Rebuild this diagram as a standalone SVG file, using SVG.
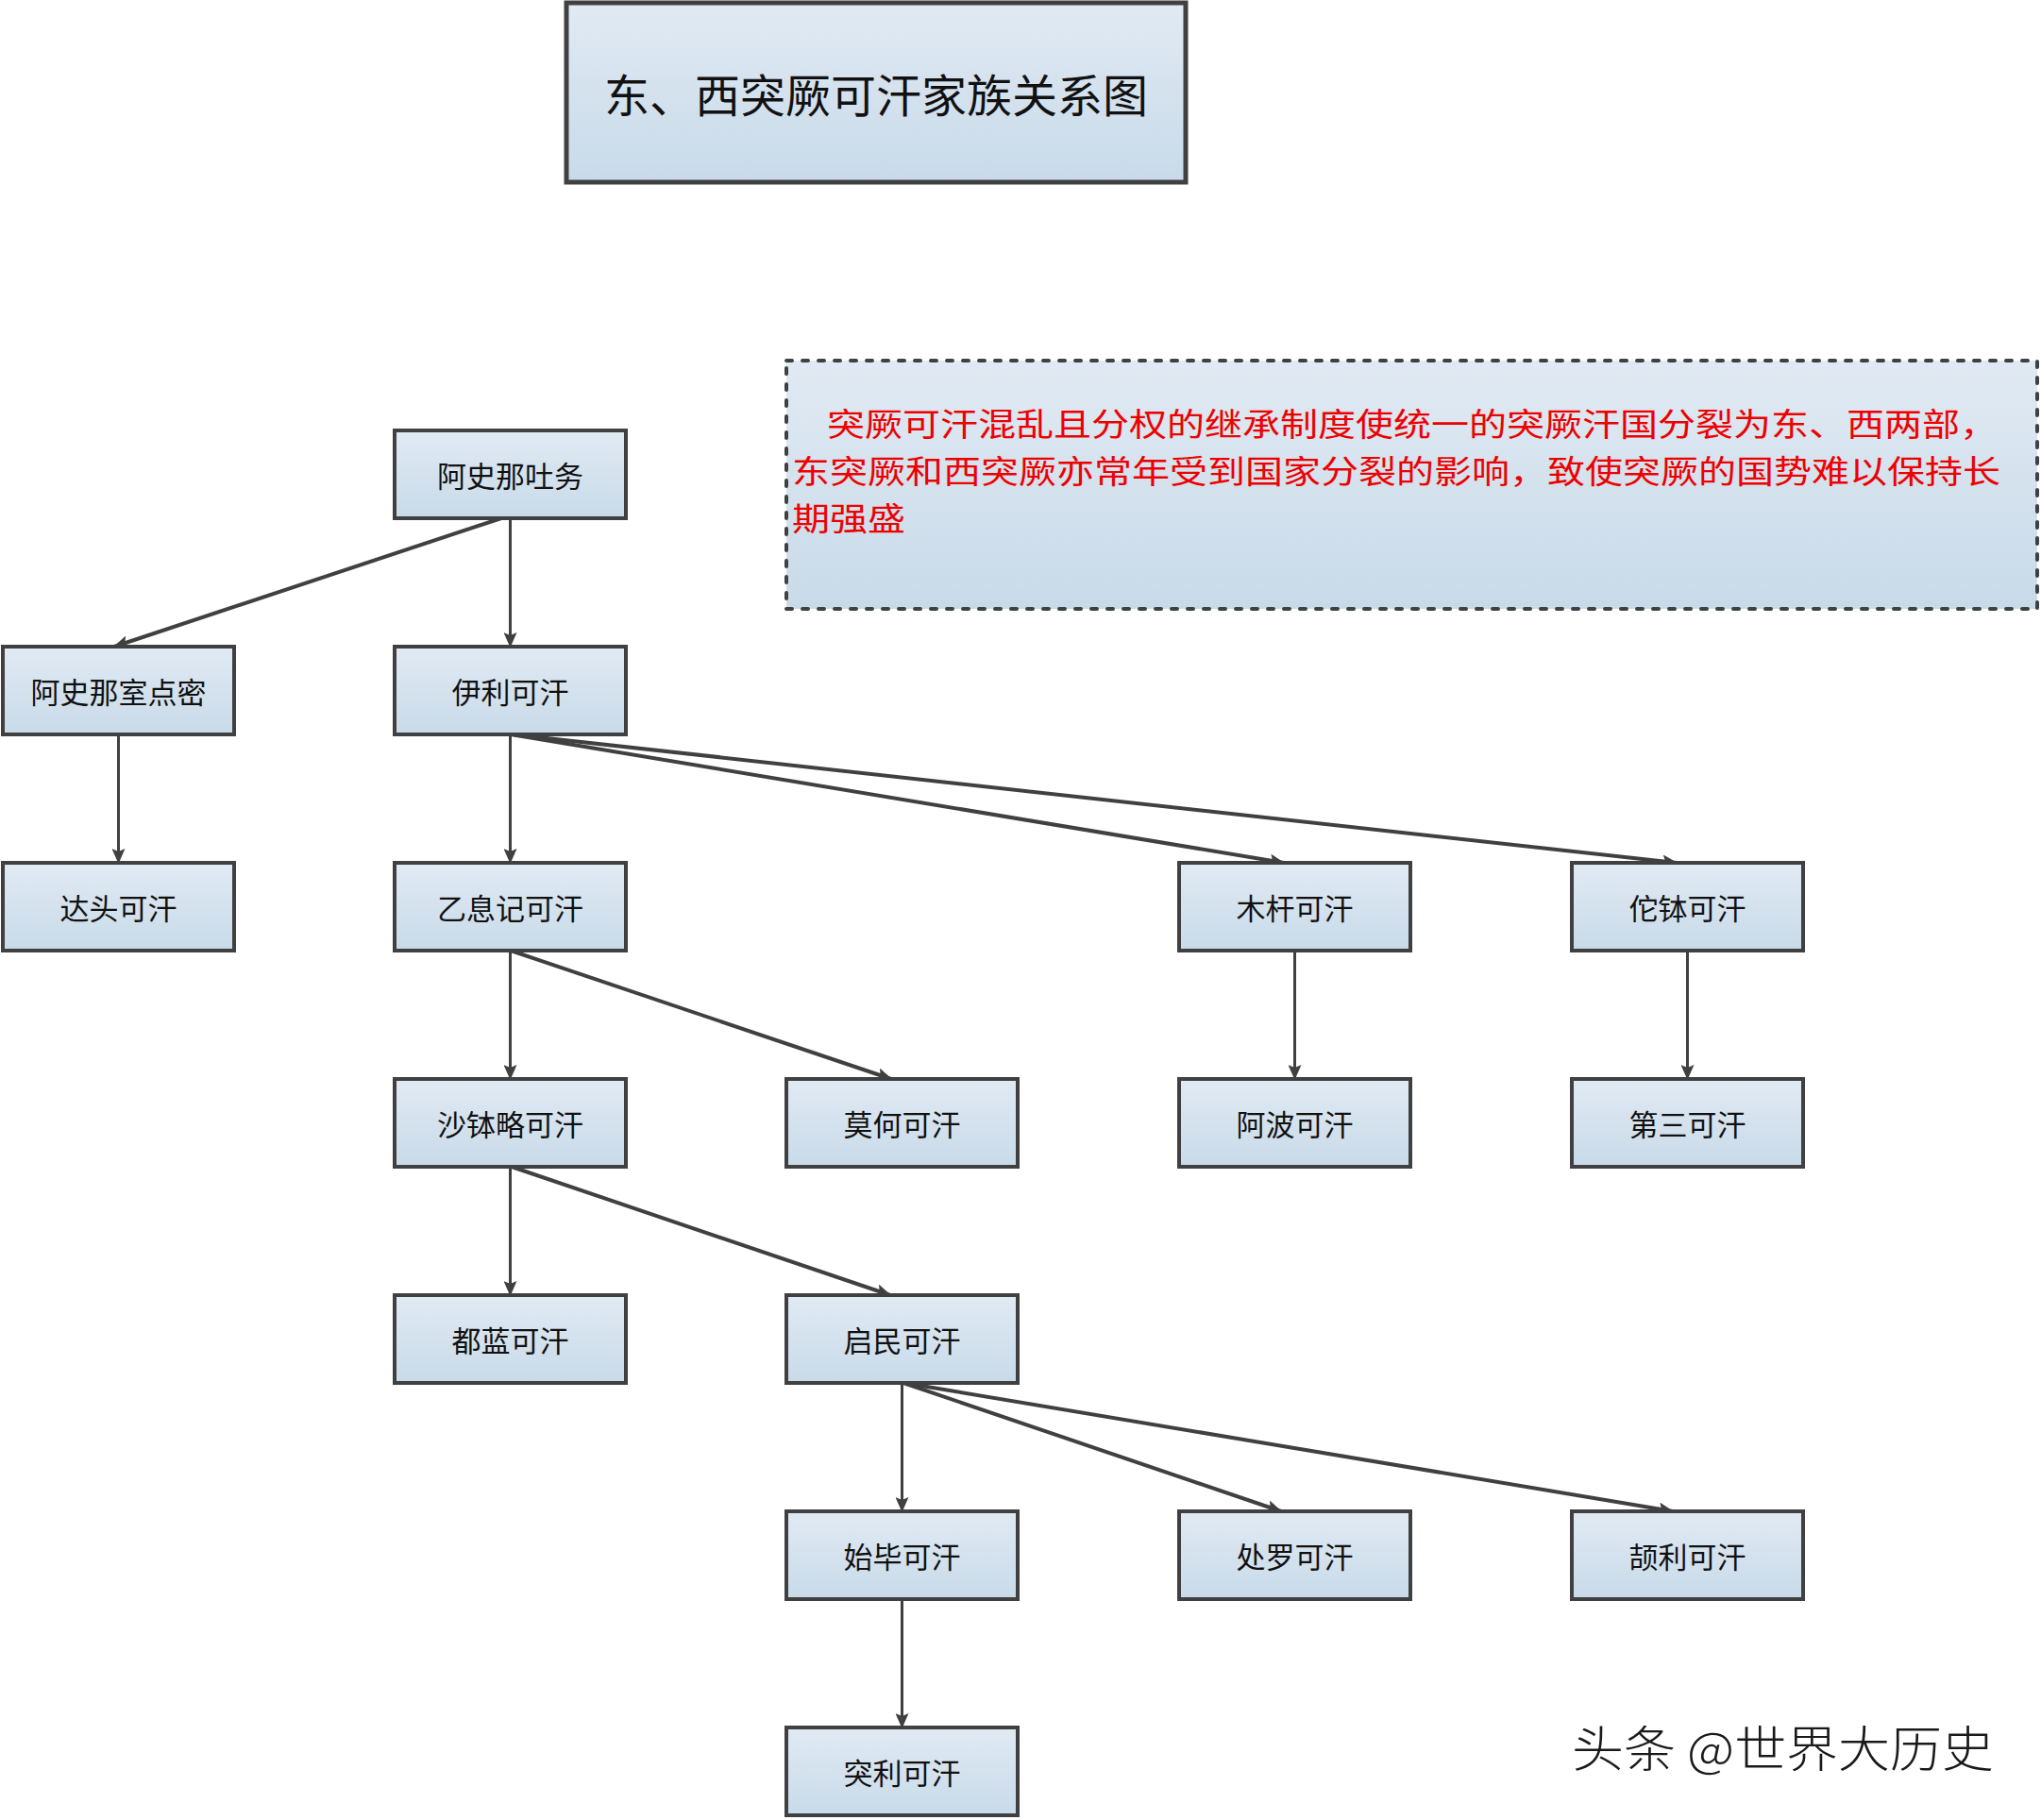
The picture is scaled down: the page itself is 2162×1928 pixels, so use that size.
<svg xmlns="http://www.w3.org/2000/svg" width="2162" height="1928" viewBox="0 0 2162 1928">
<defs>
<linearGradient id="bg" x1="0" y1="0" x2="0" y2="1">
<stop offset="0" stop-color="#e1eaf3"/>
<stop offset="1" stop-color="#c8dae9"/>
</linearGradient>
<marker id="arr" markerUnits="userSpaceOnUse" markerWidth="16" markerHeight="14" viewBox="0 0 16 14" refX="15" refY="7" orient="auto">
<path d="M0,0 L16,7 L0,14 L3,7 z" fill="#404040"/>
</marker>
<style>
.box{fill:url(#bg);stroke:#404040;stroke-width:4;}
.lbl{font-family:"Noto Sans CJK SC","Noto Sans CJK TC",sans-serif;font-size:31px;fill:#111;text-anchor:middle;dominant-baseline:central;}
.v{stroke:#404040;stroke-width:3;fill:none;marker-end:url(#arr);}
.d{stroke:#404040;stroke-width:4;fill:none;marker-end:url(#arr);}
.note{font-family:"Noto Sans CJK SC","Noto Sans CJK TC",sans-serif;font-size:34px;fill:#ee0000;}
</style>
</defs>
<rect width="2162" height="1928" fill="#ffffff"/>

<g id="title">
<rect x="600" y="3" width="656" height="190" fill="url(#bg)" stroke="#404040" stroke-width="5"/>
<text x="928" y="98" style="font-family:'Noto Sans CJK SC',sans-serif;font-size:48px;fill:#111;text-anchor:middle;dominant-baseline:central;">东、西突厥可汗家族关系图</text>
</g>

<g id="note">
<rect x="833" y="382" width="1325" height="263" fill="url(#bg)" stroke="#404040" stroke-width="4" stroke-dasharray="6 11" stroke-linecap="round"/>
<text class="note" x="876" y="462" textLength="1240" lengthAdjust="spacingAndGlyphs">突厥可汗混乱且分权的继承制度使统一的突厥汗国分裂为东、西两部，</text>
<text class="note" x="839" y="512" textLength="1280" lengthAdjust="spacingAndGlyphs">东突厥和西突厥亦常年受到国家分裂的影响，致使突厥的国势难以保持长</text>
<text class="note" x="839" y="562" textLength="120" lengthAdjust="spacingAndGlyphs">期强盛</text>
</g>

<g id="connectors">
<line class="d" x1="531" y1="549" x2="121" y2="685"/>
<line class="v" x1="540.5" y1="549" x2="540.5" y2="685"/>
<line class="v" x1="125.5" y1="778" x2="125.5" y2="914"/>
<line class="v" x1="540.5" y1="778" x2="540.5" y2="914"/>
<line class="d" x1="541" y1="778" x2="1360" y2="914"/>
<line class="d" x1="543" y1="778" x2="1776" y2="914"/>
<line class="v" x1="540.5" y1="1007" x2="540.5" y2="1143"/>
<line class="d" x1="541" y1="1007" x2="944" y2="1143"/>
<line class="v" x1="1371.5" y1="1007" x2="1371.5" y2="1143"/>
<line class="v" x1="1787.5" y1="1007" x2="1787.5" y2="1143"/>
<line class="v" x1="540.5" y1="1236" x2="540.5" y2="1372"/>
<line class="d" x1="542" y1="1236" x2="943" y2="1372"/>
<line class="v" x1="955.5" y1="1465" x2="955.5" y2="1601"/>
<line class="d" x1="957" y1="1465" x2="1357" y2="1601"/>
<line class="d" x1="958" y1="1465" x2="1772" y2="1601"/>
<line class="v" x1="955.5" y1="1694" x2="955.5" y2="1830"/>
</g>

<g id="n1"><rect class="box" x="418" y="456" width="245" height="93"/><text class="lbl" x="540.5" y="502.5">阿史那吐务</text></g>
<g id="n2"><rect class="box" x="3" y="685" width="245" height="93"/><text class="lbl" x="125.5" y="731.5">阿史那室点密</text></g>
<g id="n3"><rect class="box" x="418" y="685" width="245" height="93"/><text class="lbl" x="540.5" y="731.5">伊利可汗</text></g>
<g id="n4"><rect class="box" x="3" y="914" width="245" height="93"/><text class="lbl" x="125.5" y="960.5">达头可汗</text></g>
<g id="n5"><rect class="box" x="418" y="914" width="245" height="93"/><text class="lbl" x="540.5" y="960.5">乙息记可汗</text></g>
<g id="n6"><rect class="box" x="1249" y="914" width="245" height="93"/><text class="lbl" x="1371.5" y="960.5">木杆可汗</text></g>
<g id="n7"><rect class="box" x="1665" y="914" width="245" height="93"/><text class="lbl" x="1787.5" y="960.5">佗钵可汗</text></g>
<g id="n8"><rect class="box" x="418" y="1143" width="245" height="93"/><text class="lbl" x="540.5" y="1189.5">沙钵略可汗</text></g>
<g id="n9"><rect class="box" x="833" y="1143" width="245" height="93"/><text class="lbl" x="955.5" y="1189.5">莫何可汗</text></g>
<g id="n10"><rect class="box" x="1249" y="1143" width="245" height="93"/><text class="lbl" x="1371.5" y="1189.5">阿波可汗</text></g>
<g id="n11"><rect class="box" x="1665" y="1143" width="245" height="93"/><text class="lbl" x="1787.5" y="1189.5">第三可汗</text></g>
<g id="n12"><rect class="box" x="418" y="1372" width="245" height="93"/><text class="lbl" x="540.5" y="1418.5">都蓝可汗</text></g>
<g id="n13"><rect class="box" x="833" y="1372" width="245" height="93"/><text class="lbl" x="955.5" y="1418.5">启民可汗</text></g>
<g id="n14"><rect class="box" x="833" y="1601" width="245" height="93"/><text class="lbl" x="955.5" y="1647.5">始毕可汗</text></g>
<g id="n15"><rect class="box" x="1249" y="1601" width="245" height="93"/><text class="lbl" x="1371.5" y="1647.5">处罗可汗</text></g>
<g id="n16"><rect class="box" x="1665" y="1601" width="245" height="93"/><text class="lbl" x="1787.5" y="1647.5">颉利可汗</text></g>
<g id="n17"><rect class="box" x="833" y="1830" width="245" height="93"/><text class="lbl" x="955.5" y="1876.5">突利可汗</text></g>

<g id="watermark">
<text x="1665" y="1872" textLength="447" lengthAdjust="spacingAndGlyphs" style="font-family:'Noto Sans CJK SC',sans-serif;font-size:52px;font-weight:300;fill:#1a1a1a;">头条 @世界大历史</text>
</g>
</svg>
